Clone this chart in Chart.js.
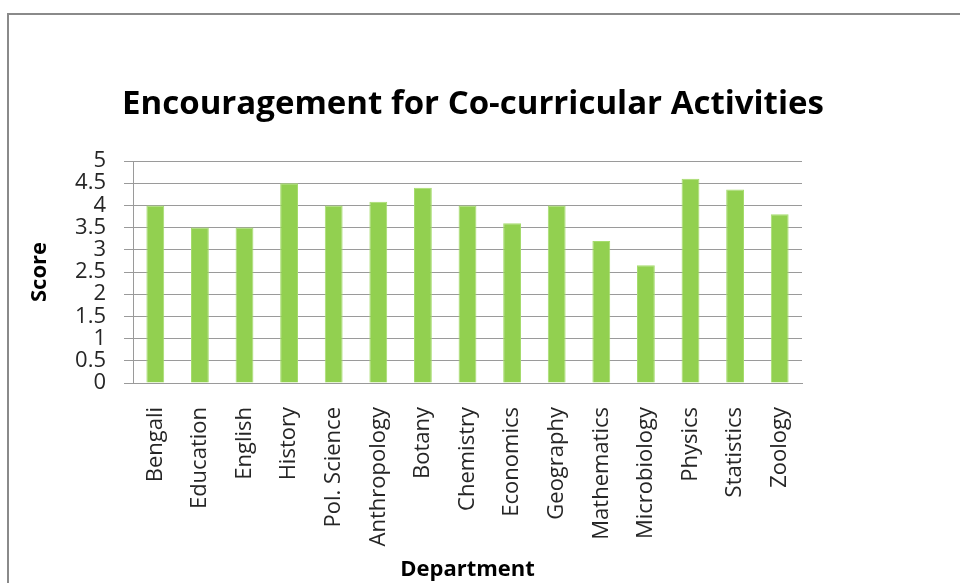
<!DOCTYPE html>
<html>
<head>
<meta charset="utf-8">
<script src="https://cdn.jsdelivr.net/npm/chart.js@4/dist/chart.umd.min.js"></script>
<style>
  html, body { margin: 0; padding: 0; background: #ffffff; }
  #wrap { width: 960px; height: 583px; position: relative; }
</style>
</head>
<body>
<div id="wrap"><canvas id="c" width="960" height="583"></canvas></div>
<script>
const departments = ["Bengali", "Education", "English", "History", "Pol. Science", "Anthropology", "Botany", "Chemistry", "Economics", "Geography", "Mathematics", "Microbiology", "Physics", "Statistics", "Zoology"];
const scores = [4.0, 3.5, 3.5, 4.5, 4.0, 4.08, 4.4, 4.0, 3.6, 4.0, 3.2, 2.65, 4.6, 4.36, 3.8];
const yTickLabels = ["0", "0.5", "1", "1.5", "2", "2.5", "3", "3.5", "4", "4.5", "5"];
const chartTitle = "Encouragement for Co-curricular Activities";
const xTitle = "Department";
const yTitle = "Score";

const FONT = "'Open Sans', 'Liberation Sans', sans-serif";
const gridGray = '#9a9a9a';

const frame = {
  id: 'frame',
  beforeDraw(chart) {
    const ctx = chart.ctx;
    ctx.save();
    ctx.fillStyle = '#ffffff';
    ctx.fillRect(0, 0, chart.width, chart.height);
    ctx.strokeStyle = '#8a8a8a';
    ctx.lineWidth = 2;
    ctx.strokeRect(8, 14, chart.width + 20, chart.height + 20);
    ctx.restore();
  },
  afterDraw(chart) {
    const ctx = chart.ctx;
    ctx.save();
    ctx.fillStyle = '#000000';
    ctx.font = "bold 33px " + FONT;
    ctx.textAlign = 'center';
    ctx.textBaseline = 'middle';
    ctx.fillText(chartTitle, 473, 105);
    ctx.restore();
  }
};

new Chart(document.getElementById('c'), {
  type: 'bar',
  data: {
    labels: departments,
    datasets: [{
      data: scores,
      backgroundColor: '#92d050',
      borderColor: '#a6dc6e',
      borderWidth: 1,
      barPercentage: 0.4,
      categoryPercentage: 1.0
    }]
  },
  options: {
    responsive: false,
    devicePixelRatio: 1,
    animation: false,
    layout: { padding: { left: 27, right: 158, top: 161, bottom: 0 } },
    plugins: {
      legend: { display: false },
      tooltip: { enabled: false },
      title: { display: false }
    },
    scales: {
      x: {
        grid: { display: false },
        border: { display: true, color: gridGray, width: 1 },
        ticks: {
          color: '#262626',
          font: { family: FONT, size: 22 },
          minRotation: 90,
          maxRotation: 90,
          padding: 16,
          autoSkip: false
        },
        title: {
          display: true,
          text: xTitle,
          color: '#000000',
          font: { family: FONT, size: 22, weight: 'bold' },
          padding: { top: 0, bottom: 0 }
        },
        afterFit(scale) { scale.height = 583 - 383; }
      },
      y: {
        min: 0,
        max: 5,
        grid: { color: gridGray, lineWidth: 1, drawTicks: true, tickLength: 9, tickColor: gridGray },
        border: { display: true, color: gridGray, width: 1 },
        ticks: {
          stepSize: 0.5,
          autoSkip: false,
          color: '#262626',
          font: { family: FONT, size: 22 },
          padding: 18,
          callback: (v, i) => yTickLabels[i]
        },
        title: {
          display: true,
          text: yTitle,
          color: '#000000',
          font: { family: FONT, size: 22, weight: 'bold' },
          padding: { top: 0, bottom: 0 }
        },
        afterFit(scale) { scale.width = 133 - 27; }
      }
    }
  },
  plugins: [frame]
});
</script>
</body>
</html>
